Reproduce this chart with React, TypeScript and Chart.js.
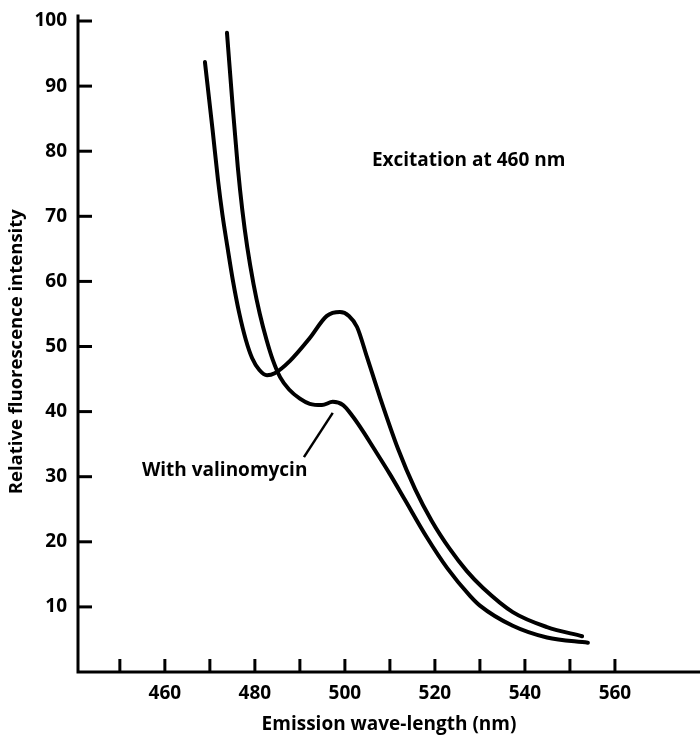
import { useEffect, useRef } from "react";
import { Chart, registerables } from "chart.js";

Chart.register(...registerables);

// Emission spectrum without valinomycin (wavelength in nm, relative intensity)
const controlNm = [
  468.9, 470.6, 471.8, 472.8, 473.9, 475.1, 476.5, 478.0, 479.4, 481.0, 482.7,
  484.4, 487.8, 492.2, 496.0, 498.9, 500.9, 502.7, 504.9, 507.8, 511.8, 515.6,
  519.3, 523.3, 527.1, 530.7, 537.3, 544.9, 552.7,
];
const controlIntensity = [
  93.7, 83.3, 75.6, 70.2, 65.3, 60.2, 55.2, 51.0, 48.2, 46.4, 45.6,
  45.9, 47.8, 51.3, 54.7, 55.3, 54.7, 53.0, 48.4, 42.2, 34.3, 28.1,
  23.2, 18.9, 15.5, 12.9, 9.2, 6.9, 5.5,
];

// Emission spectrum with valinomycin
const valinoNm = [
  473.8, 475.1, 476.2, 477.2, 478.3, 479.7, 481.1, 482.6, 484.0, 485.6, 487.6,
  490.0, 492.2, 494.9, 497.3, 499.6, 501.8, 504.0, 506.2, 510.0, 513.3, 518.2,
  522.7, 527.8, 530.0, 537.3, 544.9, 554.0,
];
const valinoIntensity = [
  98.2, 86.6, 77.6, 71.0, 65.3, 59.6, 55.0, 51.0, 47.9, 45.3, 43.4,
  42.0, 41.2, 41.0, 41.5, 41.0, 39.2, 37.0, 34.6, 30.4, 26.5, 20.7,
  16.0, 11.7, 10.2, 7.1, 5.3, 4.5,
];

// Axis ticks
const xTickValues = [450, 460, 470, 480, 490, 500, 510, 520, 530, 540, 550, 560];
const xLabelValues = [460, 480, 500, 520, 540, 560];
const yTickValues = [10, 20, 30, 40, 50, 60, 70, 80, 90, 100];

const X_MIN = 440.7;
const X_MAX = 578.9;
const Y_MIN = 0;
const Y_MAX = 101;

const FONT = "'Open Sans', 'DejaVu Sans', sans-serif";
const FONT_SIZE = 19;
const Y_TITLE = "Relative fluorescence intensity";

const toPoints = (xs: number[], ys: number[]) => xs.map((x, i) => ({ x, y: ys[i] }));

// Axis lines, inward tick marks, y title and in-plot annotations
const axisDecor = {
  id: "axisDecor",
  beforeDatasetsDraw(chart: any) {
    const { ctx, chartArea, scales } = chart;
    const { x, y } = scales;
    ctx.save();
    ctx.strokeStyle = "#000";
    ctx.lineCap = "butt";
    ctx.lineWidth = 3;
    ctx.beginPath();
    ctx.moveTo(chartArea.left, chartArea.top);
    ctx.lineTo(chartArea.left, chartArea.bottom + 1.5);
    ctx.moveTo(chartArea.left - 1.5, chartArea.bottom);
    ctx.lineTo(chartArea.right, chartArea.bottom);
    ctx.stroke();
    for (const v of yTickValues) {
      const py = y.getPixelForValue(v);
      ctx.beginPath();
      ctx.moveTo(chartArea.left, py);
      ctx.lineTo(chartArea.left + 14, py);
      ctx.stroke();
    }
    for (const v of xTickValues) {
      const px = x.getPixelForValue(v);
      ctx.beginPath();
      ctx.moveTo(px, chartArea.bottom);
      ctx.lineTo(px, chartArea.bottom - 13);
      ctx.stroke();
    }
    ctx.restore();
  },
  afterDatasetsDraw(chart: any) {
    const { ctx, scales } = chart;
    const { x, y } = scales;
    ctx.save();
    ctx.fillStyle = "#000";
    ctx.strokeStyle = "#000";
    ctx.font = `bold ${FONT_SIZE}px ${FONT}`;
    ctx.textAlign = "left";
    ctx.textBaseline = "alphabetic";
    ctx.fillText("Excitation at 460 nm", x.getPixelForValue(506.0), y.getPixelForValue(77.7));
    ctx.fillText("With valinomycin", x.getPixelForValue(454.9), y.getPixelForValue(30.1));
    // leader from label to the valinomycin curve
    ctx.lineWidth = 2.5;
    ctx.beginPath();
    ctx.moveTo(x.getPixelForValue(490.9), y.getPixelForValue(33.0));
    ctx.lineTo(x.getPixelForValue(497.3), y.getPixelForValue(39.8));
    ctx.stroke();

    // y-axis title, centred a little below the plot's middle
    ctx.font = `bold 18.5px ${FONT}`;
    ctx.textAlign = "center";
    ctx.textBaseline = "middle";
    ctx.translate(y.left + 16.5, y.getPixelForValue(49.2));
    ctx.rotate(-Math.PI / 2);
    ctx.fillText(Y_TITLE, 0, 0);
    ctx.restore();
  },
};

export default function App() {
  const canvasRef = useRef<HTMLCanvasElement | null>(null);

  useEffect(() => {
    const canvas = canvasRef.current;
    if (!canvas) return;
    const lineStyle = {
      borderColor: "#000",
      borderWidth: 4,
      borderCapStyle: "round" as const,
      borderJoinStyle: "round" as const,
      pointRadius: 0,
      fill: false,
      cubicInterpolationMode: "monotone" as const,
    };
    const tickFont = { family: FONT, size: FONT_SIZE, weight: "bold" as const };
    const chart = new Chart(canvas, {
      type: "line",
      data: {
        datasets: [
          { label: "Control", data: toPoints(controlNm, controlIntensity), ...lineStyle },
          { label: "With valinomycin", data: toPoints(valinoNm, valinoIntensity), ...lineStyle },
        ],
      },
      options: {
        animation: false,
        responsive: false,
        events: [],
        layout: { padding: { top: 14.5, left: 0, right: 0, bottom: 0 } },
        plugins: {
          legend: { display: false },
          tooltip: { enabled: false },
        },
        scales: {
          x: {
            type: "linear",
            min: X_MIN,
            max: X_MAX,
            grid: { display: false, drawTicks: false },
            border: { display: false },
            afterBuildTicks: (scale: any) => {
              scale.ticks = xTickValues.map((v) => ({ value: v }));
            },
            afterFit: (scale: any) => {
              scale.height = 65;
              scale.paddingLeft = 0;
              scale.paddingRight = 0;
            },
            ticks: {
              autoSkip: false,
              maxRotation: 0,
              padding: 10,
              color: "#000",
              font: tickFont,
              callback: (value: any) => (xLabelValues.includes(Number(value)) ? String(value) : ""),
            },
            title: {
              display: true,
              text: "Emission wave-length (nm)",
              color: "#000",
              font: tickFont,
              padding: { top: 0, bottom: 1 },
            },
          },
          y: {
            type: "linear",
            min: Y_MIN,
            max: Y_MAX,
            grid: { display: false, drawTicks: false },
            border: { display: false },
            afterBuildTicks: (scale: any) => {
              scale.ticks = yTickValues.map((v) => ({ value: v }));
            },
            afterFit: (scale: any) => {
              scale.width = 78;
              scale.paddingTop = 0;
              scale.paddingBottom = 0;
            },
            ticks: {
              padding: 11,
              color: "#000",
              font: tickFont,
              callback: (value: any) => String(value),
            },
            title: { display: false },
          },
        },
      },
      plugins: [axisDecor],
    });
    return () => chart.destroy();
  }, []);

  return (
    <div style={{ position: "absolute", left: 0, top: 0, width: 700, height: 737, background: "#fff" }}>
      <canvas ref={canvasRef} width={700} height={737} style={{ display: "block" }} />
    </div>
  );
}
